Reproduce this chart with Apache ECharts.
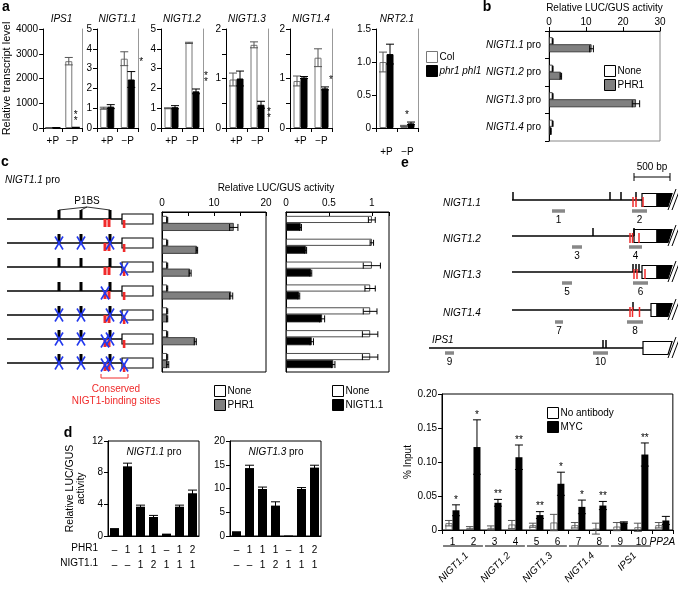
<!DOCTYPE html>
<html><head><meta charset="utf-8">
<script src="https://cdn.jsdelivr.net/npm/echarts/dist/echarts.min.js"></script>
<style>html,body{margin:0;padding:0;background:#fff}#c{width:678px;height:589px}</style>
</head><body><div id="c"></div>
<script>
// ================= DATA =================
// Panel a
const aGenes = ['IPS1','NIGT1.1','NIGT1.2','NIGT1.3','NIGT1.4','NRT2.1'];
const aConds = ['+P','\u2212P'];
const aMax = [4000,5,5,2,2,1.5];
const aStep = [1000,1,1,0.5,0.5,0.5];
const aColMean = [[10,2700],[1.00,3.50],[1.00,4.30],[0.98,1.68],[0.95,1.42],[1.00,0.03]];
const aColErr  = [[5,150],[0.05,0.35],[0.02,0.03],[0.13,0.06],[0.10,0.18],[0.15,0.01]];
const aMutMean = [[10,20],[1.08,2.45],[1.05,1.85],[1.00,0.47],[1.02,0.80],[1.12,0.07]];
const aMutErr  = [[5,10],[0.10,0.40],[0.08,0.12],[0.15,0.07],[0.02,0.03],[0.15,0.02]];
const aStarText = ['**','*','**','**','*','*'];
const aStarY = [400,3.3,2.45,0.25,0.97,0.2];
// Panel b
const bCats = ['NIGT1.1','NIGT1.2','NIGT1.3','NIGT1.4'];
const bNone = [1.0,1.0,1.0,1.0];
const bNoneErr = [0.1,0.1,0.1,0.1];
const bPHR1 = [11.5,3.2,23.5,0.5];
const bPHR1Err = [0.5,0.2,1.0,0.1];
// Panel c
const cRows = ['1','2','3','4','5','6','7'];
const cNoneA = [1.0,1.0,1.0,1.0,1.0,1.0,1.0];
const cNoneAErr = [0.1,0.1,0.1,0.1,0.1,0.1,0.1];
const cPHR1 = [13.8,6.7,5.4,13.3,1.0,6.4,1.1];
const cPHR1Err = [0.8,0.15,0.2,0.3,0.1,0.2,0.2];
const cNoneB = [1.0,1.0,1.0,0.98,0.98,0.98,0.98];
const cNoneBErr = [0.04,0.02,0.1,0.06,0.08,0.09,0.09];
const cNIGT = [0.17,0.23,0.29,0.15,0.42,0.30,0.55];
const cNIGTErr = [0.01,0.01,0.01,0.01,0.03,0.02,0.02];
const cMutated = [[],[0,1,2],[4],[3],[0,1,2,4],[0,1,2,3],[0,1,2,3,4]];
// Panel d
const dPHR1 = ['\u2013','1','1','1','\u2013','1','2'];
const dNIGT = ['\u2013','\u2013','1','2','1','1','1'];
const d11 = [1.0,8.8,3.7,2.4,0.3,3.7,5.4];
const d11Err = [0,0.4,0.2,0.2,0,0.2,0.4];
const d13 = [1.0,14.3,9.9,6.4,0.1,9.9,14.4];
const d13Err = [0,0.6,0.4,0.8,0,0.3,0.5];
// Panel e
const eCats = ['1','2','3','4','5','6','7','8','9','10','PP2A'];
const eNoAb = [0.010,0.003,0.003,0.008,0.007,0.011,0.007,0.002,0.005,0.004,0.007];
const eNoAbErr = [0.004,0.002,0.003,0.006,0.003,0.012,0.004,0.008,0.006,0.006,0.004];
const eMYC = [0.029,0.122,0.040,0.107,0.022,0.068,0.034,0.036,0.011,0.111,0.014];
const eMYCErr = [0.008,0.040,0.005,0.018,0.005,0.017,0.010,0.006,0.001,0.017,0.006];
const eStars = ['*','*','**','**','**','*','*','**','','**',''];
const eGroups = ['NIGT1.1','NIGT1.2','NIGT1.3','NIGT1.4','IPS1'];
const eGroupStart = [0,2,4,6,8];
const eGroupEnd = [1,3,5,7,9];

// ================= LAYOUT / STYLE =================
const FONT = 'Liberation Sans';
const RED = '#f02a2a', BLUE = '#2238ee', GRAY = '#808080';
const grid=[], xAxis=[], yAxis=[], series=[], graphic=[];

function T(x,y,text,o){
  o = o||{};
  const al = o.align||'center', va = o.va||'middle';
  const el = {type:'text', x, y, silent:true, rotation:o.rot||0,
    style:{text, fill:o.fill||'#000', fontFamily:FONT, fontSize:o.size||10,
      fontStyle:o.italic?'italic':'normal', fontWeight:o.bold?'bold':'normal',
      align:al, verticalAlign:va, textAlign:al, textVerticalAlign:va, rich:o.rich}};
  graphic.push(el);
}
function Ln(x1,y1,x2,y2,stroke,lw){graphic.push({type:'line',silent:true,shape:{x1,y1,x2,y2},style:{stroke:stroke||'#000',lineWidth:lw||1}});}
function Rc(x,y,w,h,fill,stroke,lw){graphic.push({type:'rect',silent:true,shape:{x,y,width:w,height:h},style:{fill:fill,stroke:stroke||null,lineWidth:lw||0}});}
function Pg(pts,fill,stroke){graphic.push({type:'polygon',silent:true,shape:{points:pts},style:{fill,stroke:stroke||null,lineWidth:1.2}});}
function Xm(cx,cy){Ln(cx-4,cy-6.5,cx+4,cy+6.5,BLUE,1.6);Ln(cx+4,cy-6.5,cx-4,cy+6.5,BLUE,1.6);}

const lbl = {color:'#000', fontSize:10, fontFamily:FONT};
const blackLine = {show:true, lineStyle:{color:'#000', width:1}};

function L(x1,y1,x2,y2,c){return {type:'line',shape:{x1,y1,x2,y2},style:{stroke:c,lineWidth:1}};}
function errBars(xi, yi, means, errs, off, capW, color, horiz){
  const data = means.map((m,k)=> horiz ? [m,k,errs[k]] : [k,m,errs[k]]);
  series.push({type:'custom', xAxisIndex:xi, yAxisIndex:yi, z:10, silent:true, data,
    renderItem:(p,api)=>{
      const e = api.value(2); if(!e) return null;
      const h = capW/2;
      if(horiz){
        const m=api.value(0), c=api.value(1);
        const a=api.coord([m-e,c]), b=api.coord([m+e,c]); const y=a[1]+off;
        return {type:'group',children:[L(a[0],y,b[0],y,color),L(a[0],y-h,a[0],y+h,color),L(b[0],y-h,b[0],y+h,color)]};
      }
      const c=api.value(0), m=api.value(1);
      const a=api.coord([c,m+e]), b=api.coord([c,m-e]); const x=a[0]+off;
      return {type:'group',children:[L(x,a[1],x,b[1],color),L(x-h,a[1],x+h,a[1],color),L(x-h,b[1],x+h,b[1],color)]};
    }});
}

// ---------- Panel a ----------
const aLeft = [41,97,161,226,290,376], aWidth=[41,41,42,42,42,42];
const aStarDx = [0,10,10,8,6,-4], aStarVert=[true,false,true,true,false,false];
aGenes.forEach((g,i)=>{
  const gi = grid.length;
  grid.push({left:aLeft[i], top:29, width:aWidth[i], height:99});
  const xi = xAxis.length;
  xAxis.push({gridIndex:gi, type:'category', data:aConds, axisLine:blackLine,
    axisTick:{show:true,length:4,lineStyle:{color:'#000'}},
    axisLabel:Object.assign({margin:i===5?19:8, interval:0},lbl)});
  const yi = yAxis.length;
  yAxis.push({gridIndex:gi, type:'value', min:0, max:aMax[i], interval:aStep[i],
    axisLine:blackLine, axisTick:{show:true,length:4,lineStyle:{color:'#000'}}, splitLine:{show:false},
    axisLabel:Object.assign({margin:5, formatter:v=>{
      if(i===3||i===4) return Number.isInteger(v)?String(v):'';
      if(i===5) return v===0?'0':v.toFixed(1);
      return String(v);}},lbl),
    name:i===0?'Relative transcript level':'', nameLocation:'middle', nameGap:29, nameRotate:90,
    nameTextStyle:{color:'#000',fontSize:11,fontFamily:FONT}});
  yAxis.push({gridIndex:gi, type:'value', position:'right', min:0, max:aMax[i],
    axisLine:{show:true,lineStyle:{color:'#999'}}, axisTick:{show:false}, axisLabel:{show:false}, splitLine:{show:false}});
  series.push({name:'Col', type:'bar', xAxisIndex:xi, yAxisIndex:yi, data:aColMean[i], barWidth:7, barGap:'0%',
    itemStyle:{color:'#fff', borderColor:'#777', borderWidth:1}});
  series.push({name:'phr1 phl1', type:'bar', xAxisIndex:xi, yAxisIndex:yi, data:aMutMean[i], barWidth:7, barGap:'0%',
    itemStyle:{color:'#000', borderColor:'#000', borderWidth:1}});
  errBars(xi, yi, aColMean[i], aColErr[i], -3.5, 8, '#555', false);
  errBars(xi, yi, aMutMean[i], aMutErr[i], 3.5, 8, '#000', false);
  const dx = aStarDx[i], vert = aStarVert[i];
  series.push({type:'custom', xAxisIndex:xi, yAxisIndex:yi, z:12, silent:true, data:[[1,aStarY[i]]],
    renderItem:(p,api)=>{const c=api.coord([api.value(0),api.value(1)]);
      return {type:'text', x:c[0]+3.5+dx, y:c[1], style:{text:vert?'*\n*':aStarText[i], fill:'#000', fontSize:10, fontFamily:FONT, lineHeight:6, align:'center', verticalAlign:'middle'}};}});
  T(aLeft[i]+aWidth[i]/2, 19, g, {italic:true});
});

// ---------- Panel b ----------
{
  const gi = grid.length;
  grid.push({left:549, top:31, width:111, height:110, show:true, borderColor:'#888', borderWidth:1});
  const xi = xAxis.length;
  xAxis.push({gridIndex:gi, type:'value', position:'top', min:0, max:30, interval:10,
    axisLine:blackLine, axisTick:{show:true,length:4,lineStyle:{color:'#000'}}, splitLine:{show:false},
    axisLabel:Object.assign({margin:4},lbl),
    name:'Relative LUC/GUS activity', nameLocation:'middle', nameGap:18,
    nameTextStyle:{color:'#000',fontSize:10,fontFamily:FONT}});
  const yi = yAxis.length;
  yAxis.push({gridIndex:gi, type:'category', inverse:true, data:bCats, axisLine:blackLine,
    axisTick:{show:true,length:4,lineStyle:{color:'#000'}},
    axisLabel:Object.assign({margin:8, interval:0, formatter:v=>'{i|'+v+'} pro', rich:{i:{fontStyle:'italic',fontSize:10,fontFamily:FONT,color:'#000'}}},lbl)});
  series.push({name:'None', type:'bar', xAxisIndex:xi, yAxisIndex:yi, data:bNone, barWidth:7, barGap:'0%',
    itemStyle:{color:'#fff', borderColor:'#222', borderWidth:0.8}});
  series.push({name:'PHR1', type:'bar', xAxisIndex:xi, yAxisIndex:yi, data:bPHR1, barWidth:8, barGap:'0%',
    itemStyle:{color:GRAY, borderColor:'#222', borderWidth:0.8}});
  errBars(xi, yi, bNone, bNoneErr, -3.5, 6, '#000', true);
  errBars(xi, yi, bPHR1, bPHR1Err, 4, 7, '#000', true);
}

// ---------- Panel c ----------
function cChart(left, width, max, step, fmt, d1, e1, d2, e2, n1, n2, c2){
  const gi = grid.length;
  grid.push({left, top:212, width, height:160, show:true, borderColor:'#000', borderWidth:1});
  const xi = xAxis.length;
  xAxis.push({gridIndex:gi, type:'value', position:'top', min:0, max, interval:step,
    axisLine:blackLine, axisTick:{show:true,inside:true,length:4,lineStyle:{color:'#000'}}, splitLine:{show:false},
    axisLabel:Object.assign({margin:4, formatter:fmt},lbl)});
  const yi = yAxis.length;
  yAxis.push({gridIndex:gi, type:'category', inverse:true, data:cRows, axisLine:blackLine,
    axisTick:{show:false}, axisLabel:{show:false}});
  series.push({name:n1, type:'bar', xAxisIndex:xi, yAxisIndex:yi, data:d1, barWidth:7, barGap:'0%',
    itemStyle:{color:'#fff', borderColor:'#222', borderWidth:0.8}});
  series.push({name:n2, type:'bar', xAxisIndex:xi, yAxisIndex:yi, data:d2, barWidth:8, barGap:'0%',
    itemStyle:{color:c2, borderColor:'#222', borderWidth:0.8}});
  errBars(xi, yi, d1, e1, -3.5, 6, '#000', true);
  errBars(xi, yi, d2, e2, 4, 7, '#000', true);
}
cChart(162, 104, 20, 5, v=>(v%10===0?String(v):''), cNoneA, cNoneAErr, cPHR1, cPHR1Err, 'None', 'PHR1', GRAY);
cChart(286, 103, 1.2, 0.5, v=>(v===0?'0':v===0.5?'0.5':v===1?'1':''), cNoneB, cNoneBErr, cNIGT, cNIGTErr, 'None', 'NIGT1.1', '#000');
T(276, 188, 'Relative LUC/GUS activity');

// c diagram
T(5, 180, '{i|NIGT1.1} pro', {align:'left', rich:{i:{fontStyle:'italic',fontSize:10,fontFamily:FONT,fill:'#000'}}});
T(87, 201, 'P1BS');
[59,81,110].forEach(x=>Ln(87,207,x,210,'#000',0.8));
const cSiteX = [59,81,110,105,124];
cRows.forEach((r,i)=>{
  const y = 219 + 24*i;
  Ln(7,y,122,y,'#000',1.3);
  Rc(122,y-5,31,10,'#fff','#000',1.2);
  [59,81,110].forEach(x=>Rc(x-1.5,y-9,3,9,'#000'));
  Rc(103.5,y,3,8,RED); Rc(107.5,y,3,8,RED);
  Rc(122.8,y+1,2.6,8,RED);
  cMutated[i].forEach(s=>Xm(cSiteX[s], s>=3?y+2:y));
});
Ln(101,374,101,378,RED,1); Ln(101,378,128,378,RED,1); Ln(128,378,128,374,RED,1);
T(116, 389, 'Conserved', {fill:RED});
T(116, 401, 'NIGT1-binding sites', {fill:RED});

// ---------- Panel d ----------
function dChart(left, max, step, vals, errs, title, withName){
  const gi = grid.length;
  grid.push({left, top:441, width:91, height:95, show:true, borderColor:'#000', borderWidth:1});
  const xi = xAxis.length;
  xAxis.push({gridIndex:gi, type:'category', data:[0,1,2,3,4,5,6], axisLine:blackLine, axisTick:{show:false},
    axisLabel:Object.assign({margin:7, interval:0, lineHeight:15, formatter:(v,k)=>dPHR1[k]+'\n'+dNIGT[k]},lbl)});
  const yi = yAxis.length;
  yAxis.push({gridIndex:gi, type:'value', min:0, max, interval:step, axisLine:blackLine,
    axisTick:{show:true,length:4,lineStyle:{color:'#000'}}, splitLine:{show:false},
    axisLabel:Object.assign({margin:5},lbl),
    name:withName?'Relative LUC/GUS\nactivity':'', nameLocation:'middle', nameGap:21, nameRotate:90,
    nameTextStyle:{color:'#000',fontSize:10.5,fontFamily:FONT,lineHeight:11}});
  series.push({name:'d', type:'bar', xAxisIndex:xi, yAxisIndex:yi, data:vals, barWidth:9,
    itemStyle:{color:'#000'}});
  errBars(xi, yi, vals, errs, 0, 9, '#000', false);
  T(left+46, 452, '{i|'+title+'} pro', {rich:{i:{fontStyle:'italic',fontSize:10,fontFamily:FONT,fill:'#000'}}});
}
dChart(108, 12, 4, d11, d11Err, 'NIGT1.1', true);
dChart(230, 20, 5, d13, d13Err, 'NIGT1.3', false);
T(98, 548, 'PHR1', {align:'right'});
T(98, 563, 'NIGT1.1', {align:'right'});

// ---------- Panel e ----------
{
  const gi = grid.length;
  grid.push({left:442, top:394, width:234, height:136, show:true, borderColor:'#000', borderWidth:1});
  const xi = xAxis.length;
  xAxis.push({gridIndex:gi, type:'category', data:eCats, axisLine:blackLine,
    axisTick:{show:true,length:4,lineStyle:{color:'#000'}},
    axisLabel:Object.assign({margin:7, interval:0, formatter:v=>v==='PP2A'?'{i|PP2A}':v, rich:{i:{fontStyle:'italic',fontSize:10,fontFamily:FONT,color:'#000'}}},lbl)});
  const yi = yAxis.length;
  yAxis.push({gridIndex:gi, type:'value', min:0, max:0.2, interval:0.05, axisLine:blackLine,
    axisTick:{show:true,length:4,lineStyle:{color:'#000'}}, splitLine:{show:false},
    axisLabel:Object.assign({margin:5, formatter:v=>v===0?'0':v.toFixed(2)},lbl),
    name:'% Input', nameLocation:'middle', nameGap:29, nameRotate:90,
    nameTextStyle:{color:'#000',fontSize:10,fontFamily:FONT}});
  series.push({name:'No antibody', type:'bar', xAxisIndex:xi, yAxisIndex:yi, data:eNoAb, barWidth:7, barGap:'0%',
    itemStyle:{color:'#fff', borderColor:'#555', borderWidth:0.8}});
  series.push({name:'MYC', type:'bar', xAxisIndex:xi, yAxisIndex:yi, data:eMYC, barWidth:7, barGap:'0%',
    itemStyle:{color:'#000'}});
  errBars(xi, yi, eNoAb, eNoAbErr, -3.5, 8, '#555', false);
  errBars(xi, yi, eMYC, eMYCErr, 3.5, 8, '#000', false);
  series.push({type:'custom', xAxisIndex:xi, yAxisIndex:yi, z:12, silent:true,
    data:eMYC.map((m,k)=>[k, m+eMYCErr[k]]),
    renderItem:(p,api)=>{const s=eStars[p.dataIndex]; if(!s) return null;
      const c=api.coord([api.value(0),api.value(1)]);
      return {type:'text', x:c[0]+3.5, y:c[1]-5, style:{text:s, fill:'#000', fontSize:10, fontFamily:FONT, align:'center', verticalAlign:'middle'}};}});
  series.push({type:'custom', xAxisIndex:xi, yAxisIndex:yi, z:12, silent:true,
    data:eGroups.map((g,k)=>[eGroupStart[k], 0, eGroupEnd[k]]),
    renderItem:(p,api)=>{
      const a=api.coord([api.value(0),0]), b=api.coord([api.value(2),0]);
      const w=api.size([1,0])[0]; const y=a[1]+16; const cx=(a[0]+b[0])/2;
      return {type:'group', children:[
        {type:'line', shape:{x1:a[0]-w*0.45,y1:y,x2:b[0]+w*0.45,y2:y}, style:{stroke:'#000',lineWidth:1}},
        {type:'text', x:cx+4, y:y+8, rotation:Math.PI/4, style:{text:eGroups[p.dataIndex], fill:'#000', fontSize:10, fontFamily:FONT, fontStyle:'italic', align:'right', verticalAlign:'middle'}}
      ]};
    }});
}

// e diagram
const eRowsLayout = [
 {name:'NIGT1.1', y:200, x0:512, box:642, blk:657, ticks:[513,610,621,636], reds:[633,636,643], grays:[[552,565,'1'],[632,647,'2']], gy:11},
 {name:'NIGT1.2', y:236, x0:512, box:634, blk:657, ticks:[593,634], reds:[630,632.5,639], grays:[[572,582,'3'],[629,642,'4']], gy:11},
 {name:'NIGT1.3', y:272, x0:512, box:642, blk:657, ticks:[633,636,639], reds:[634,637,645], grays:[[562,572,'5'],[633,648,'6']], gy:11},
 {name:'NIGT1.4', y:310, x0:512, box:651, blk:657, ticks:[633], reds:[630,632.5,639.5], grays:[[555,563,'7'],[627,643,'8']], gy:12},
 {name:'IPS1', y:348, x0:429, box:643, blk:null, ticks:[603,606], reds:[], grays:[[445,454,'9'],[593,608,'10']], gy:5}
];
eRowsLayout.forEach(r=>{
  const y=r.y;
  Ln(r.x0,y,r.box,y,'#000',1.3);
  if(r.blk){
    Rc(r.box,y-6.5,r.blk-r.box,13,'#fff','#000',1.2);
    Pg([[r.blk,y-6.5],[r.blk+15,y-6.5],[r.blk+11,y+6.5],[r.blk,y+6.5]],'#000','#000');
    Ln(r.blk+11,y+10,r.blk+19,y-11,'#000',1); Ln(r.blk+15,y+10,r.blk+23,y-11,'#000',1);
    T(443, y+3, r.name, {italic:true, align:'left'});
  } else {
    Pg([[r.box,y-6.5],[r.box+29,y-6.5],[r.box+25,y+6.5],[r.box,y+6.5]],'#fff','#000');
    Ln(r.box+25,y+10,r.box+33,y-11,'#000',1); Ln(r.box+29,y+10,r.box+37,y-11,'#000',1);
    T(432, y-8, r.name, {italic:true, align:'left'});
  }
  r.ticks.forEach(x=>Ln(x,y-8,x,y,'#000',1.5));
  r.reds.forEach(x=>Ln(x,y-3,x,y+7,RED,1.5));
  r.grays.forEach(g=>{Rc(g[0],y+r.gy-1.75,g[1]-g[0],3.5,'#888'); T((g[0]+g[1])/2, y+r.gy+9, g[2]);});
});
Ln(634,177,670,177,'#000',1); Ln(634,173,634,181,'#000',1); Ln(670,173,670,181,'#000',1);
T(652, 167, '500 bp');

// panel letters
T(6,7,'a',{bold:true,size:14}); T(487,7,'b',{bold:true,size:14}); T(5,162,'c',{bold:true,size:14});
T(68,433,'d',{bold:true,size:14}); T(405,163,'e',{bold:true,size:14});

const legBase = {orient:'vertical', itemWidth:11, itemHeight:11, itemGap:2, selectedMode:false, icon:'rect',
  itemStyle:{borderColor:'#000', borderWidth:1}, textStyle:{fontSize:10, fontFamily:FONT, color:'#000', padding:[0,0,0,-3]}};
const legend = [
  Object.assign({left:421, top:46, data:[{name:'Col', itemStyle:{borderColor:'#777'}},{name:'phr1 phl1', textStyle:{fontStyle:'italic'}}]}, legBase),
  Object.assign({left:599, top:60, data:['None','PHR1']}, legBase),
  Object.assign({left:209, top:380, data:['None','PHR1']}, legBase),
  Object.assign({left:327, top:380, data:['None','NIGT1.1']}, legBase),
  Object.assign({left:542, top:402, data:['No antibody','MYC']}, legBase)
];

const chart = echarts.init(document.getElementById('c'), null, {renderer:'canvas'});
chart.setOption({animation:false, backgroundColor:'#fff', textStyle:{fontFamily:FONT, color:'#000'},
  grid, xAxis, yAxis, series, legend, graphic:{elements:graphic}});
</script></body></html>
